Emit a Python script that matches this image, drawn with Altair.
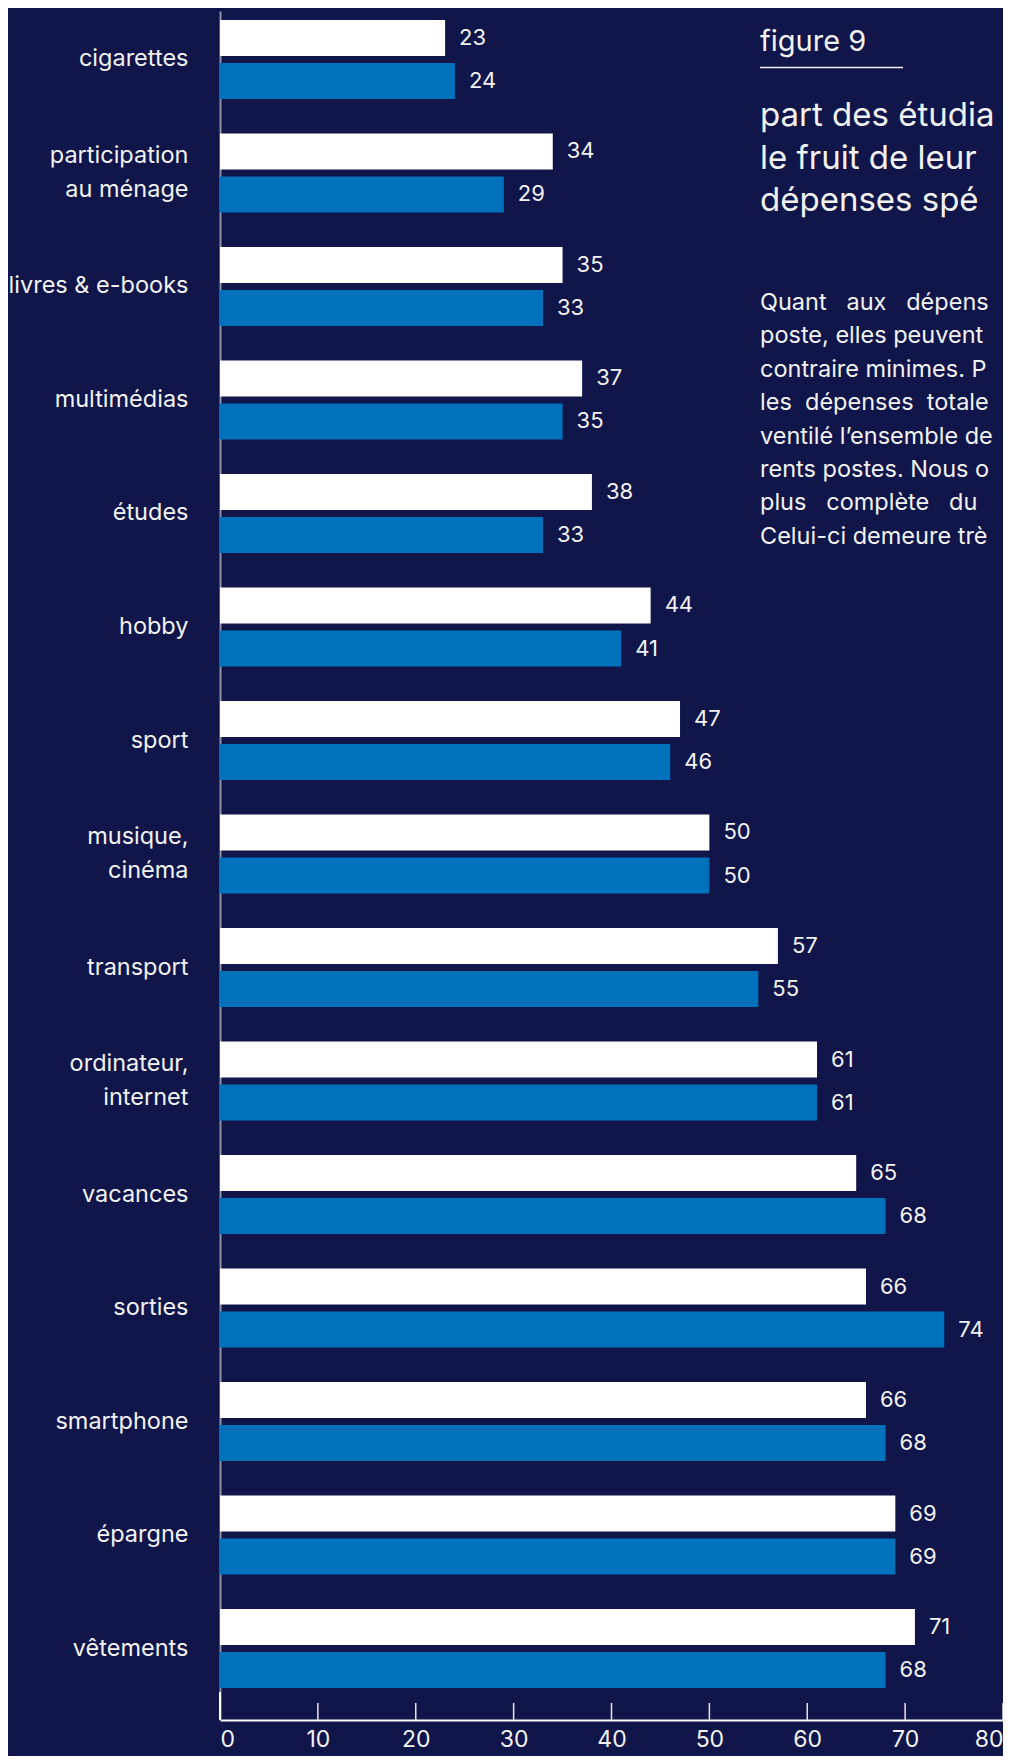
import altair as alt
import pandas as pd

# ---- data ----
categories = [
    "cigarettes", "participation\nau ménage", "livres & e-books", "multimédias",
    "études", "hobby", "sport", "musique,\ncinéma", "transport",
    "ordinateur,\ninternet", "vacances", "sorties", "smartphone", "épargne",
    "vêtements",
]
serie_1 = [23, 34, 35, 37, 38, 44, 47, 50, 57, 61, 65, 66, 66, 69, 71]
serie_2 = [24, 29, 33, 35, 33, 41, 46, 50, 55, 61, 68, 74, 68, 69, 68]
series_names = ["série 1", "série 2"]
series_colors = ["#ffffff", "#0072bc"]
x_ticks = [0, 10, 20, 30, 40, 50, 60, 70, 80]

fig_label = "figure 9"
title_lines = [
    "part des étudiants qui consacrent",
    "le fruit de leur travail à des",
    "dépenses spécifiques",
]
NB = "\u00a0"
paragraph_lines = [
    f"Quant{NB*3}aux{NB*3}dépenses{NB*3}par",
    "poste, elles peuvent être",
    "contraire minimes. Pour",
    f"les{NB*2}dépenses{NB*2}totales{NB*2}par",
    "ventilé l’ensemble des",
    "rents postes. Nous obtenons",
    f"plus{NB*3}complète{NB*3}du{NB*3}solde",
    "Celui-ci demeure très s",
]

rows = []
for c, a, b in zip(categories, serie_1, serie_2):
    rows.append({"categorie": c, "serie": series_names[0], "valeur": a})
    rows.append({"categorie": c, "serie": series_names[1], "valeur": b})
df = pd.DataFrame(rows)
ticks_df = pd.DataFrame({"valeur": x_ticks[1:]})
zero_df = pd.DataFrame({"valeur": x_ticks[:1]})
one = pd.DataFrame({"k": [0]})

W, H = 783, 1709
BG = "#10154a"
FG = "#f2f2f2"
FONT = "Inter"
LH = 33.7
AX = 540  # left edge of the annotation block, in plot pixels

y_enc = alt.Y(
    "categorie:N", sort=categories, title=None,
    scale=alt.Scale(paddingInner=0.304, paddingOuter=0.1806, align=0.2195),
    axis=alt.Axis(
        domainColor="#8f91a8", domainWidth=2, ticks=False, tickSize=0,
        labelPadding=32, labelFont=FONT, labelFontSize=23.5, labelColor=FG,
        labelLineHeight=LH, labelLimit=0, labelAlign="right",
        labelExpr="split(datum.label, '\\n')",
        labelOffset={
            "condition": {"test": "indexof(datum.label, '\\n') >= 0", "value": -LH / 2},
            "value": 0,
        },
    ),
)
yoff_enc = alt.YOffset(
    "serie:N", sort=series_names,
    scale=alt.Scale(domain=series_names, paddingInner=0.163, paddingOuter=0),
)
x_enc = alt.X(
    "valeur:Q", title=None,
    scale=alt.Scale(domain=[0, 80], nice=False),
    axis=alt.Axis(
        values=x_ticks, grid=False, ticks=False, tickSize=0,
        domainColor="#ffffff", domainWidth=2, labelFlush=True,
        labelPadding=8, labelFont=FONT, labelFontSize=23, labelColor=FG,
        labelOverlap=False,
    ),
)

bars = alt.Chart(df).mark_bar().encode(
    y=y_enc, yOffset=yoff_enc, x=x_enc,
    color=alt.Color("serie:N", scale=alt.Scale(domain=series_names, range=series_colors), legend=None),
)
labels = alt.Chart(df).mark_text(
    align="left", baseline="middle", dx=14, font=FONT, fontSize=22, color=FG
).encode(y=y_enc, yOffset=yoff_enc, x=x_enc, text="valeur:Q")

ticks = alt.Chart(ticks_df).mark_rule(color="#e6e6ee", strokeWidth=1.5).encode(
    x=x_enc, y=alt.value(H - 17), y2=alt.value(H)
)
zero_tick = alt.Chart(zero_df).mark_rule(color="#ffffff", strokeWidth=2).encode(
    x=x_enc, y=alt.value(H - 28), y2=alt.value(H)
)

fig = alt.Chart(one).mark_text(
    text=fig_label, align="left", baseline="alphabetic", font=FONT, fontSize=29, color=FG
).encode(x=alt.value(AX), y=alt.value(40))
underline = alt.Chart(one).mark_rule(color=FG, strokeWidth=1.5).encode(
    x=alt.value(AX), x2=alt.value(AX + 143), y=alt.value(56.5)
)
title = alt.Chart(one).mark_text(
    text=title_lines, align="left", baseline="alphabetic", font=FONT, fontSize=33,
    lineHeight=42.7, color=FG, limit=244, ellipsis=" "
).encode(x=alt.value(AX), y=alt.value(115))
para = alt.Chart(one).mark_text(
    text=paragraph_lines, align="left", baseline="alphabetic", font=FONT, fontSize=23.5,
    lineHeight=33.4, color=FG, limit=242, ellipsis=" "
).encode(x=alt.value(AX), y=alt.value(299))

chart = alt.layer(
    bars, labels, ticks, zero_tick, fig, underline, title, para
).properties(
    width=W, height=H,
    padding={"left": 212, "top": 3, "right": 0, "bottom": 36},
    autosize=alt.AutoSizeParams(type="none"),
    background=BG,
).configure_view(stroke=None)

chart.save("out.html", embed_options={"renderer": "svg", "actions": False})
